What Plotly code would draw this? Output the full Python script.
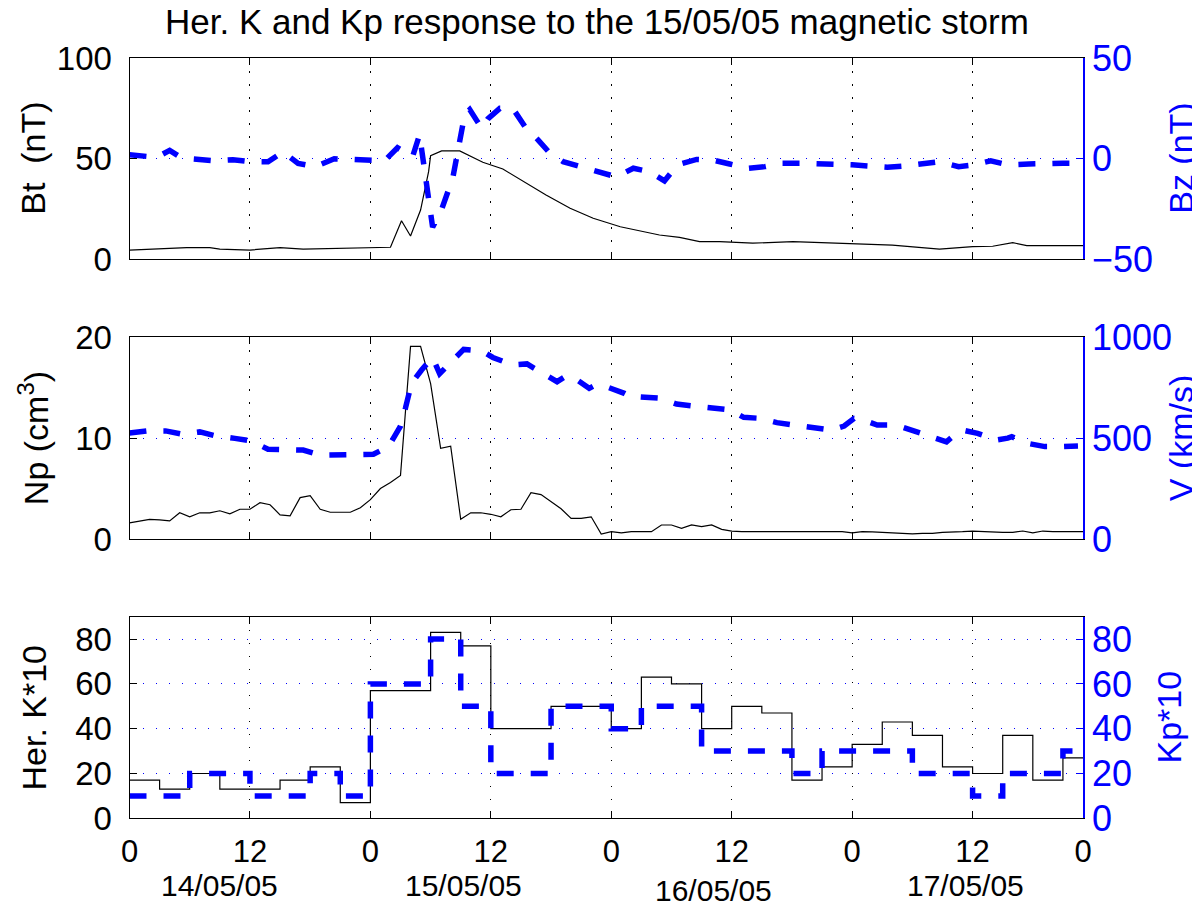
import plotly.graph_objects as go

# ---------------- data ----------------
# Top panel: Bt (nT) and Bz (nT) vs hours since 14/05/05 00:00
bt_t = [0, 3, 5.7, 8, 9, 12, 15, 17.3, 19.6, 22.2, 24, 26, 27.1, 28, 29, 29.4, 29.8, 30.0,
        31.1, 32.9, 35.2, 37.2, 39.6, 41.5, 43.9, 46.2, 48.9, 52.8, 54.8, 56.8, 58.8, 62.1,
        66.1, 71.8, 76, 80.7, 84, 86, 88, 89.4, 95]
bt_v = [4.6, 5.3, 5.8, 5.8, 5.1, 4.6, 5.8, 5.1, 5.4, 5.8, 6.0, 6.0, 19.2, 11.6, 24.5, 33.6, 43.6, 51.6,
        53.9, 53.9, 48.3, 44.9, 37.8, 32.0, 25.4, 20.4, 16.2, 12.1, 10.9, 8.8, 8.8, 8.0,
        8.8, 8.0, 7.1, 5.1, 6.3, 6.5, 8.3, 6.8, 6.8]

bz_t = [0, 1.7, 3.0, 4.0, 5.2, 6.8, 8.6, 10.3, 12.1, 13.8, 15.3, 16.8, 18.5, 20.4, 21.9, 23.7,
        25.4, 26.7, 28.2, 28.9, 30.2, 31.0, 32.2, 33.4, 33.9, 34.6, 35.1, 35.7, 36.9, 38.2,
        39.4, 40.7, 41.9, 43.2, 45.0, 46.7, 48.5, 50.2, 51.8, 53.3, 54.6, 56.5, 58.1, 59.8,
        61.6, 63.3, 65.0, 67.0, 68.6, 70.2, 72.0, 73.7, 75.5, 77.2, 79.0, 80.7, 82.6, 84.0,
        85.8, 87.5, 89.6, 91.2, 93.0, 95.0]
bz_v = [2.0, 1.2, 1.5, 4.2, 0.4, -0.2, -1.0, -0.5, -1.5, -1.5, 3.5, -2.3, -3.9, 0.0, -0.5, -1.0,
        -1.0, 5.5, 1.0, 12.0, -34.0, -26.5, -9.7, 22.0, 24.5, 19.0, 15.2, 19.9, 25.1, 25.0,
        16.0, 9.4, 2.7, -1.4, -3.9, -6.1, -9.0, -4.7, -6.4, -11.0, -3.0, -0.3, -0.6, -2.6,
        -4.7, -3.9, -2.2, -2.2, -2.7, -2.7, -3.0, -3.9, -4.2, -3.6, -2.2, -1.4, -3.9, -3.1,
        -1.0, -3.0, -2.6, -2.2, -2.2, -2.2]

# Middle panel: Np (cm^-3) hourly and V (km/s)
np_t = list(range(0, 96))
np_v = [1.6, 1.8, 1.95, 1.9, 1.8, 2.6, 2.2, 2.6, 2.6, 2.8, 2.5, 2.95, 2.95, 3.6, 3.4, 2.4,
        2.3, 4.1, 4.3, 2.95, 2.65, 2.65, 2.65, 3.1, 3.9, 5.0, 5.6, 6.3, 19.1, 19.1, 15.4, 9.0,
        9.2, 1.95, 2.6, 2.6, 2.45, 2.2, 2.9, 2.95, 4.6, 4.4, 3.7, 3.0, 2.05, 2.05, 2.2, 0.5,
        0.73, 0.6, 0.73, 0.73, 0.73, 1.39, 1.39, 1.06, 1.39, 1.22, 1.39, 0.96, 0.79, 0.73,
        0.73, 0.73, 0.75, 0.73, 0.73, 0.73, 0.73, 0.75, 0.79, 0.73, 0.6, 0.73, 0.7, 0.66,
        0.6, 0.55, 0.5, 0.55, 0.56, 0.66, 0.73, 0.73, 0.79, 0.73, 0.7, 0.66, 0.66, 0.79,
        0.6, 0.79, 0.73, 0.73, 0.73, 0.73]
v_t = [0, 1.7, 3.6, 5.2, 7.0, 8.7, 10.5, 12.1, 13.8, 15.3, 17.3, 19.0, 20.8, 22.5, 24.3, 25.8,
       27.0, 27.5, 28.1, 29.1, 30.2, 30.9, 32.5, 33.3, 34.5, 35.2, 36.2, 38.2, 39.6, 41.0,
       42.6, 43.5, 44.1, 45.8, 46.5, 47.5, 49.3, 50.2, 50.8, 52.8, 54.5, 56.2, 57.9, 59.8,
       61.2, 62.9, 64.5, 66.4, 68.0, 69.9, 71.2, 72.2, 73.0, 74.5, 76.4, 78.0, 79.7, 81.4,
       82.3, 83.0, 84.5, 86.4, 87.5, 87.9, 89.5, 91.2, 92.9, 94.5]
v_v = [526, 536, 536, 520, 531, 510, 499, 487, 445, 441, 441, 416, 416, 416, 420, 458,
       560, 650, 772, 838, 900, 820, 900, 940, 935, 930, 900, 863, 868, 825,
       780, 808, 805, 747, 765, 755, 722, 698, 705, 698, 669, 659, 648, 640,
       603, 598, 577, 565, 554, 540, 560, 598, 593, 565, 565, 540, 507, 482,
       520, 540, 524, 491, 500, 507, 474, 458, 458, 461]

# Bottom panel: 3-hourly Hermanus K*10 and Kp*10
k_t = list(range(0, 99, 3))
herk = [17, 13, 20, 13, 13, 17, 23, 7, 57, 57, 83, 77, 40, 40, 50, 50,
        40, 63, 60, 40, 50, 47, 17, 23, 33, 43, 37, 23, 20, 37, 17, 27]
kp = [10, 10, 20, 20, 10, 10, 20, 10, 60, 60, 80, 50, 20, 20, 50, 50,
      40, 50, 50, 30, 30, 30, 20, 30, 30, 30, 20, 20, 10, 20, 20, 30]

x_tickvals = [0, 12, 24, 36, 48, 60, 72, 84, 95]
x_ticktext = ["0", "12", "0", "12", "0", "12", "0", "12", "0"]
dates = ["14/05/05", "15/05/05", "16/05/05", "17/05/05"]
date_hours = [9.0, 33.3, 58.2, 83.3]
date_ypx = [885, 885, 890, 885]
title = "Her. K and Kp response to the 15/05/05 magnetic storm"

# ---------------- figure ----------------
# the page body has an 8 px margin: the figure is drawn from (8, 8) of the window
OFF = 8
W, H = 1200 - OFF, 918 - OFF
FONT = "Liberation Sans, Arial, sans-serif"
BLUE = "#0000ff"


def px(sx):
    return (sx - OFF) / W


def py(sy):
    return (H - (sy - OFF)) / H


XDOM = [px(129.5), px(1083)]
YPX = [(58.3, 259.3), (337.3, 539.0), (616.7, 818.3)]
YDOMS = [[py(b), py(t)] for t, b in YPX]
DASH = "17px,17px"
GDASH = "1.5px,11.5px"

fig = go.Figure()
fig.add_trace(go.Scatter(x=bt_t, y=bt_v, mode="lines", line=dict(color="black", width=1.2),
                         xaxis="x", yaxis="y"))
fig.add_trace(go.Scatter(x=bz_t, y=bz_v, mode="lines", line=dict(color=BLUE, width=5.5, dash=DASH),
                         xaxis="x", yaxis="y2"))
fig.add_trace(go.Scatter(x=np_t, y=np_v, mode="lines", line=dict(color="black", width=1.2),
                         xaxis="x2", yaxis="y3"))
fig.add_trace(go.Scatter(x=v_t, y=v_v, mode="lines", line=dict(color=BLUE, width=5.5, dash=DASH),
                         xaxis="x2", yaxis="y4"))
fig.add_trace(go.Scatter(x=k_t, y=herk + [herk[-1]], mode="lines", line_shape="hv",
                         line=dict(color="black", width=1.2), xaxis="x3", yaxis="y5"))
fig.add_trace(go.Scatter(x=k_t, y=kp + [kp[-1]], mode="lines", line_shape="hv",
                         line=dict(color=BLUE, width=5.5, dash=DASH), xaxis="x3", yaxis="y6"))


def xax(i, labels):
    return dict(domain=XDOM, range=[0, 95], anchor="y" if i == 0 else "y%d" % (2 * i + 1),
                tickmode="array", tickvals=x_tickvals, ticktext=x_ticktext, automargin=False,
                showticklabels=labels, ticks="inside", ticklen=7, tickcolor="black",
                showline=True, linecolor="black", linewidth=1, mirror="ticks",
                showgrid=True, gridcolor="black", gridwidth=1, griddash=GDASH,
                zeroline=False, ticklabelstandoff=5,
                tickfont=dict(family=FONT, size=31, color="black"))


def yleft(i, rng, ticks):
    return dict(domain=YDOMS[i], range=rng, anchor="x" if i == 0 else "x%d" % (i + 1),
                tickmode="array", tickvals=ticks, ticks="inside", ticklen=7, tickcolor="black",
                showline=True, linecolor="black", linewidth=1, showgrid=False, zeroline=False,
                automargin=False, ticklabelstandoff=10,
                tickfont=dict(family=FONT, size=33, color="black"))


def yright(i, rng, ticks, over):
    return dict(range=rng, overlaying=over, side="right", anchor="x" if i == 0 else "x%d" % (i + 1),
                tickmode="array", tickvals=ticks, ticks="inside", ticklen=7, tickcolor=BLUE,
                showline=True, linecolor=BLUE, linewidth=1.5, showgrid=True, gridcolor=BLUE,
                gridwidth=1, griddash=GDASH, zeroline=False, ticklabelstandoff=0,
                automargin=False, tickfont=dict(family=FONT, size=36, color=BLUE))


fig.update_layout(
    width=W, height=H, margin=dict(l=0, r=0, t=0, b=0, autoexpand=False),
    paper_bgcolor="white", plot_bgcolor="white", showlegend=False,
    xaxis=xax(0, False), xaxis2=xax(1, False), xaxis3=xax(2, True),
    yaxis=yleft(0, [0, 100], [0, 50, 100]),
    yaxis2=yright(0, [-50, 50], [-50, 0, 50], "y"),
    yaxis3=yleft(1, [0, 20], [0, 10, 20]),
    yaxis4=yright(1, [0, 1000], [0, 500, 1000], "y3"),
    yaxis5=yleft(2, [0, 90], [0, 20, 40, 60, 80]),
    yaxis6=yright(2, [0, 90], [0, 20, 40, 60, 80], "y5"),
)
fig.layout.yaxis2.update(ticktext=["\u221250", "0", "50"])

ann = [dict(text=title, x=px(597), y=py(22), xref="paper", yref="paper", showarrow=False,
            font=dict(family=FONT, size=35, color="black"), xanchor="center", yanchor="middle")]
left_titles = ["Bt\u00a0\u00a0(nT)", "Np (cm<sup>3</sup>)", "Her. K*10"]
right_titles = ["Bz (nT)", "V (km/s)", "Kp*10"]
right_x = [1181, 1181, 1168]
for i in range(3):
    yc = (YDOMS[i][0] + YDOMS[i][1]) / 2
    ann.append(dict(text=left_titles[i], x=px(33), y=yc, xref="paper", yref="paper",
                    showarrow=False, textangle=-90, xanchor="center", yanchor="middle",
                    font=dict(family=FONT, size=34, color="black")))
    ann.append(dict(text=right_titles[i], x=px(right_x[i]), y=yc, xref="paper", yref="paper",
                    showarrow=False, textangle=-90, xanchor="center", yanchor="middle",
                    font=dict(family=FONT, size=34, color=BLUE)))
for d, h, ypx in zip(dates, date_hours, date_ypx):
    ann.append(dict(text=d, x=h, xref="x3", y=py(ypx), yref="paper", showarrow=False,
                    xanchor="center", yanchor="middle",
                    font=dict(family=FONT, size=30, color="black")))
fig.update_layout(annotations=ann)

fig.write_html("out.html")
